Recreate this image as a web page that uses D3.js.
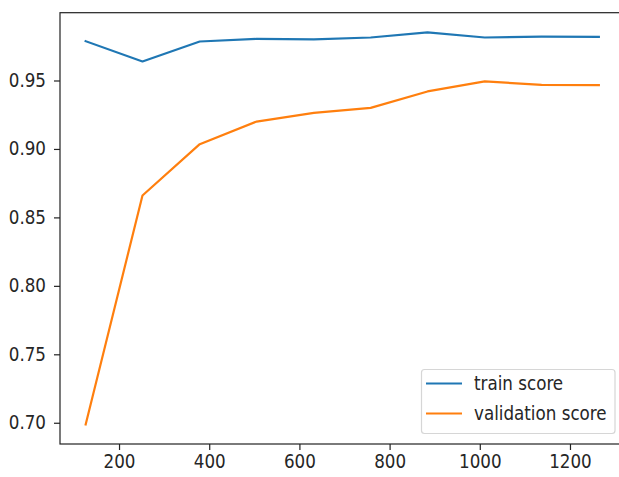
<!DOCTYPE html>
<html><head><meta charset="utf-8">
<script src="https://cdn.jsdelivr.net/npm/d3@7"></script>
<style>body{margin:0;background:#fff;} svg{display:block;} text{font-family:"DejaVu Sans Condensed","DejaVu Sans",sans-serif;font-stretch:condensed;fill:#262626;}</style>
</head><body><svg id="c" width="619" height="477"></svg>
<script>
const trainSizes = [126, 252, 379, 505, 632, 758, 884, 1011, 1137, 1264];
const trainScore = [0.9787, 0.9639, 0.9785, 0.9804, 0.9800, 0.9814, 0.9852, 0.9814, 0.9820, 0.9818];
const validationScore = [0.6988, 0.8660, 0.9035, 0.9200, 0.9263, 0.9300, 0.9420, 0.9493, 0.9468, 0.9466];
const xTicks = [200, 400, 600, 800, 1000, 1200];
const yTicks = [0.70, 0.75, 0.80, 0.85, 0.90, 0.95];
const seriesNames = ["train score", "validation score"];
const colors = ["#1f77b4", "#ff7f0e"];

const svg = d3.select("#c");
const L = 60, T = 12.7, B = 444, R = 624.5;
const FONT = "18.6px";

const xmin = d3.min(trainSizes), xmax = d3.max(trainSizes);
const xpad = (xmax - xmin) * 0.05;
const allY = trainScore.concat(validationScore);
const ymin = d3.min(allY), ymax = d3.max(allY);
const ypad = (ymax - ymin) * 0.05;

const x = d3.scaleLinear().domain([xmin - xpad, xmax + xpad]).range([L, R]);
const y = d3.scaleLinear().domain([ymin - ypad, ymax + ypad]).range([B, T]);

const line = d3.line().x((d, i) => x(trainSizes[i])).y(d => y(d));
[trainScore, validationScore].forEach((s, k) => {
  svg.append("path").attr("d", line(s)).attr("fill", "none")
    .attr("stroke", colors[k]).attr("stroke-width", 2.2).attr("stroke-linejoin", "round").attr("stroke-linecap", "square");
});

const xAxis = svg.append("g").attr("transform", `translate(0,${B})`)
  .call(d3.axisBottom(x).tickValues(xTicks).tickFormat(d3.format("d")).tickSize(6).tickPadding(5).tickSizeOuter(0));
const yAxis = svg.append("g").attr("transform", `translate(${L},0)`)
  .call(d3.axisLeft(y).tickValues(yTicks).tickFormat(d3.format(".2f")).tickSize(6).tickPadding(8).tickSizeOuter(0));
[xAxis, yAxis].forEach(a => {
  a.selectAll("text").style("font-family", "'DejaVu Sans Condensed','DejaVu Sans',sans-serif").style("font-stretch", "condensed").style("font-size", FONT).attr("fill", "#262626");
  a.selectAll("line").attr("stroke", "#222").attr("stroke-width", 1.2);
  a.select(".domain").remove();
});
// spines
svg.append("rect").attr("x", L).attr("y", T).attr("width", R - L).attr("height", B - T)
  .attr("fill", "none").attr("stroke", "#222").attr("stroke-width", 1.2);

// legend
const lg = svg.append("g");
lg.append("rect").attr("x", 421.5).attr("y", 369.5).attr("width", 193.5).attr("height", 64).attr("rx", 3)
  .attr("fill", "#fff").attr("fill-opacity", 0.8).attr("stroke", "#d6d6d6").attr("stroke-width", 1.2);
seriesNames.forEach((n, k) => {
  const cy = 383.5 + k * 30;
  lg.append("line").attr("x1", 426).attr("x2", 462).attr("y1", cy).attr("y2", cy)
    .attr("stroke", colors[k]).attr("stroke-width", 2.2);
  lg.append("text").attr("x", 474).attr("y", cy).attr("dy", "0.35em").style("font-size", FONT).text(n);
});
</script></body></html>
